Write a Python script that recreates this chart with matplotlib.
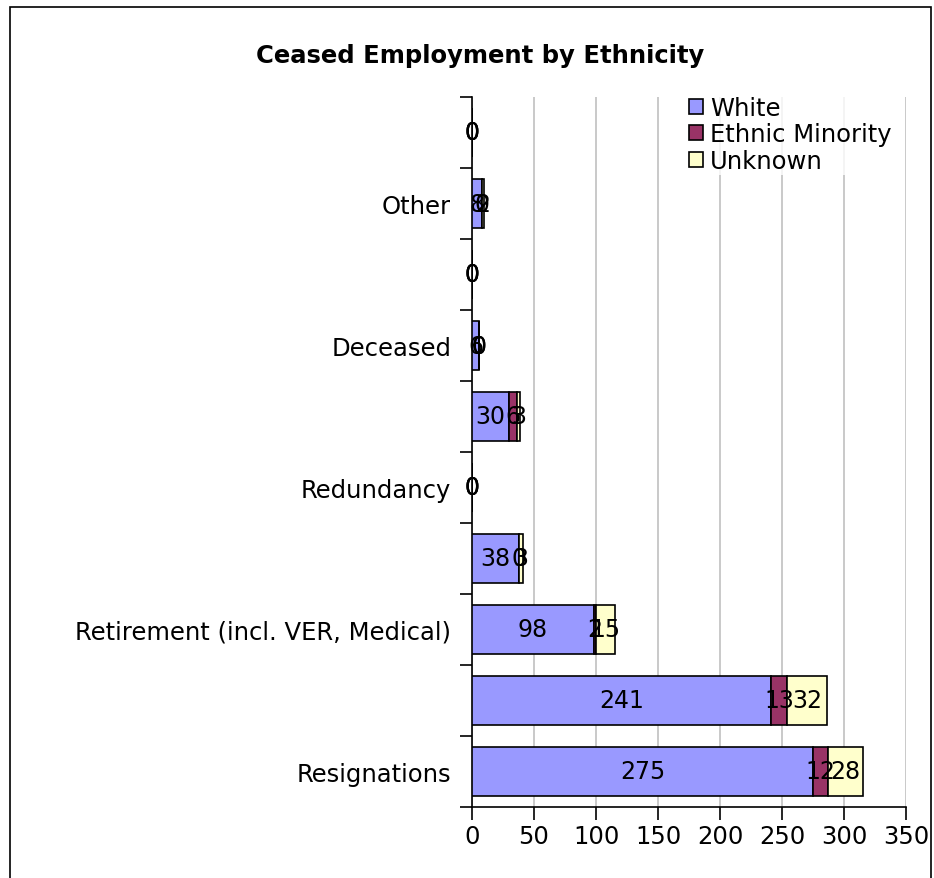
import numpy as np
import matplotlib.pyplot as plt
from matplotlib.patches import Rectangle

# Categories from bottom to top (only every other one is labelled on the chart)
categories = ["Resignations", "", "Retirement (incl. VER, Medical)", "", "Redundancy",
              "", "Deceased", "", "Other", ""]
white = [275, 241, 98, 38, 0, 30, 6, 0, 8, 0]
minority = [12, 13, 2, 0, 0, 6, 0, 0, 0, 0]
unknown = [28, 32, 15, 3, 0, 3, 0, 0, 2, 0]
series = ["White", "Ethnic Minority", "Unknown"]
colors = ["#9999FF", "#993366", "#FFFFCC"]

W, H = 934, 879
fig = plt.figure(figsize=(W / 100, H / 100), dpi=100)
ax = fig.add_axes([472 / W, 1 - 808 / H, (906 - 472) / W, (808 - 98) / H])

# Outer chart border
fig.patches.append(Rectangle((10 / W, -0.01), (931 - 10) / W, 1 - 8 / H + 0.01,
                             transform=fig.transFigure, fill=False,
                             edgecolor="black", linewidth=1.2))

y = np.arange(len(categories))
left = np.zeros(len(categories))
for vals, name, col in zip([white, minority, unknown], series, colors):
    vals = np.array(vals)
    ax.barh(y, vals, left=left, height=0.68, color=col, edgecolor="black",
            linewidth=1.2, label=name, zorder=3)
    for yi, (l, v) in enumerate(zip(left, vals)):
        ax.text(l + v / 2, yi, str(v), ha="center", va="center", fontsize=17, zorder=4)
    left = left + vals

ax.set_xlim(0, 350)
ax.set_ylim(-0.5, len(categories) - 0.5)
ax.set_xticks(np.arange(0, 351, 50))
ax.tick_params(axis="x", labelsize=17.5, length=9, width=1.2, pad=3, direction="out")
ax.xaxis.grid(True, color="#C0C0C0", linewidth=1.2, zorder=0)

# category boundary ticks on y axis, labels in between
ax.set_yticks(np.arange(-0.5, len(categories), 1.0))
ax.set_yticklabels([])
ax.set_yticks(y, minor=True)
ax.set_yticklabels(categories, minor=True, fontsize=17.5)
ax.tick_params(axis="y", which="major", length=9, width=1.2)
ax.tick_params(axis="y", which="minor", length=0, pad=15)

for s in ["top", "right"]:
    ax.spines[s].set_visible(False)
ax.spines["left"].set_linewidth(1.2)
ax.spines["bottom"].set_linewidth(1.2)

leg = ax.legend(loc="upper right", bbox_to_anchor=(1.0, 1.022), fontsize=17.5, frameon=True,
                handlelength=0.55, handleheight=0.55, handletextpad=0.3,
                borderpad=0.1, labelspacing=0.1, fancybox=False)
leg.get_frame().set_edgecolor("white")
leg.get_frame().set_linewidth(0)
leg.set_zorder(5)

fig.text(480 / W, 1 - 56 / H, "Ceased Employment by Ethnicity", ha="center", va="center",
         fontsize=17.5, fontweight="bold")

fig.savefig("out.png", dpi=100)
